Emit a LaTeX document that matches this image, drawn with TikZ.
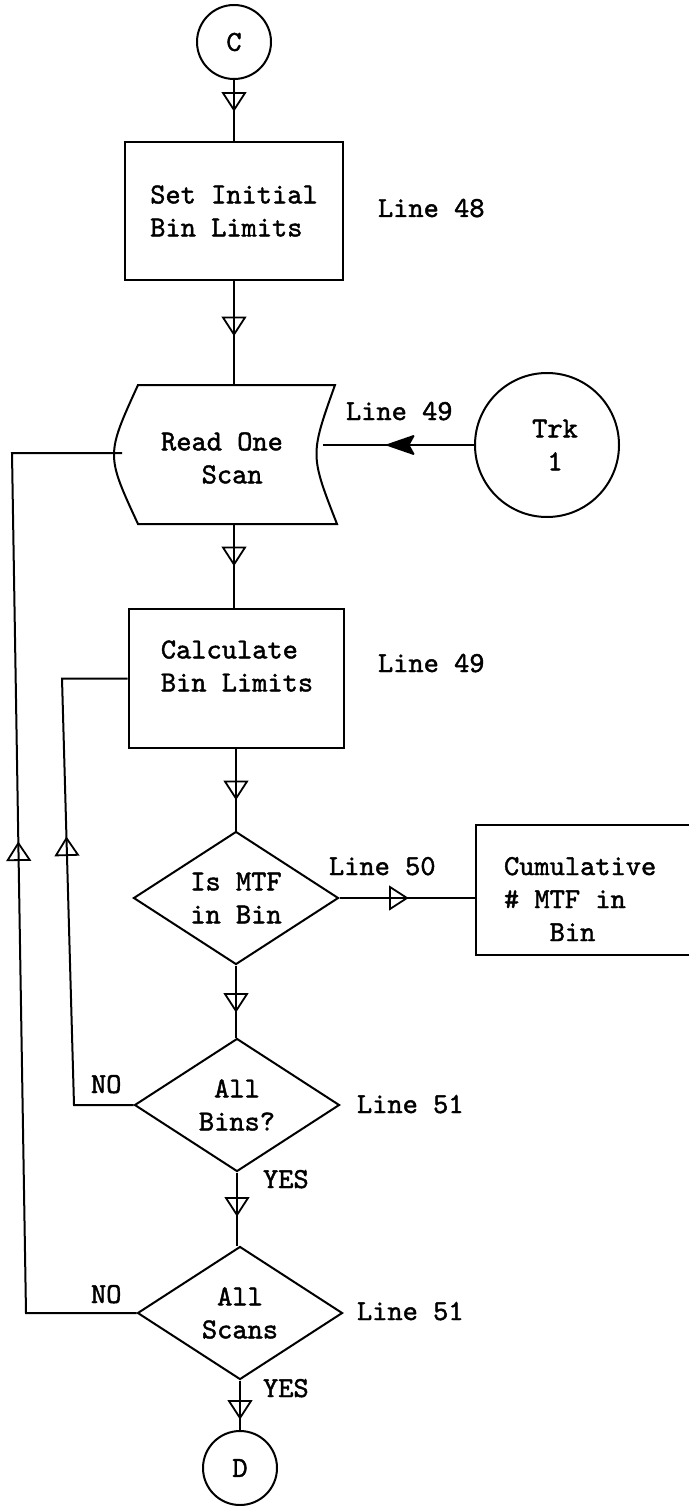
\documentclass[tikz,border=0pt]{standalone}
\usepackage{fontspec}
\setmonofont[FakeBold=1.5]{lmmono10-regular.otf}
\usetikzlibrary{shapes.geometric,decorations.markings,calc}
\newcommand\flowfont{\ttfamily\fontsize{29}{33}\selectfont}
\begin{document}
\begin{tikzpicture}[
  x=1pt, y=-1pt,
  line width=2pt,
  every node/.style={font=\flowfont},
  box/.style={draw, rectangle, inner sep=0pt},
  dec/.style={draw, diamond, inner sep=0pt, aspect=1.54, minimum width=205pt, minimum height=133pt, align=center},
  term/.style={draw, circle, inner sep=0pt, minimum size=74pt},
  txt/.style={inner sep=0pt, align=left},
  lbl/.style={inner sep=0pt, anchor=base west},
  flow/.style={postaction={decorate, decoration={markings,
      mark=at position #1 with {\draw[line width=1.8pt, line join=miter] (-8.5pt,-11pt) -- (8.5pt,0pt) -- (-8.5pt,11pt) -- cycle;}}}},
  flowfill/.style={postaction={decorate, decoration={markings,
      mark=at position #1 with {\draw[line width=1.8pt, fill=black, line join=round] (-13pt,-9pt) -- (13pt,0pt) -- (-13pt,9pt) -- (-8pt,0pt) -- cycle;}}}}
]
\fill[white] (0,0) rectangle (688,1506);
\useasboundingbox (0,0) rectangle (688,1506);

% nodes
\node[term] (C) at (234,42) {C};
\node[box, minimum width=218pt, minimum height=138pt, align=left] (init) at (234,211) {Set Initial\\Bin Limits};
\node[lbl] (l48) at (377,217) {Line 48};

% Read One Scan (tape-like symbol)
\coordinate (rdNW) at (138,385);
\coordinate (rdNE) at (335,385);
\coordinate (rdSE) at (337,524);
\coordinate (rdSW) at (138,524);
\coordinate (rdT) at (234,385);
\coordinate (rdB) at (234,524);
\coordinate (rdL) at (122,453);
\coordinate (rdR) at (323,445);
\draw (rdNW) -- (rdNE) .. controls (310,455) .. (rdSE) -- (rdSW) .. controls (106,455) .. (rdNW) -- cycle;
\node[txt] (rd) at (222,458) {Read One\\\hspace{1.4em}Scan};
\node[lbl] (l49a) at (345,420) {Line 49};
\node[draw, circle, inner sep=0pt, minimum size=144pt, align=center] (trk) at (547,445) {\hspace*{16pt}Trk\\\hspace*{16pt}1};

\node[box, minimum width=215pt, minimum height=139pt] (calc) at (236,678.5) {};
\node[txt] (calctxt) at (237,666) {Calculate\\Bin Limits};
\node[lbl] (l49b) at (377,672) {Line 49};

\node[dec] (d1) at (236,898) {Is MTF\\in Bin};
\node[lbl] (l50) at (328,875) {Line 50};
\node[box, minimum width=224pt, minimum height=130pt] (cum) at (588,890) {};
\node[txt, anchor=west] (cumtxt) at (503,899) {Cumulative\\\#\ MTF in\\\hspace{1.575em}Bin};

\node[dec] (d2) at (237,1105) {All\\Bins?};
\node[lbl] (l51a) at (356,1113) {Line 51};
\node[lbl] (no1) at (90,1093) {NO};
\node[lbl] (yes1) at (262,1188) {YES};

\node[dec] (d3) at (240,1313) {All\\Scans};
\node[lbl] (l51b) at (356,1320) {Line 51};
\node[lbl] (no2) at (90,1303) {NO};
\node[lbl] (yes2) at (262,1397) {YES};

\node[term] (D) at (240,1468) {D};

% feedback line corners (hand-drawn, slightly slanted verticals)
\coordinate (fbAbot) at (74,0);
\coordinate (fbAtop) at (62,0);
\coordinate (fbBbot) at (26,0);
\coordinate (fbBtop) at (12,0);

% connectors
\draw[flow=21.5pt] (C.south) -- (C.south |- init.north);
\draw[flow=45pt] (init.south) -- (rdT);
\draw[flow=32pt] (rdB) -- (rdB |- calc.north);
\draw[flow=41pt] (calc.south) -- (calc.south |- d1.north);
\draw[flow=59pt] (d1.east) -- (d1.east -| cum.west);
\draw[flow=37pt] (d1.south) -- (d1.south |- d2.north);
\draw[flow=34pt] (d2.south) -- (d2.south |- d3.north);
\draw[flow=29pt] (d3.south) -- (d3.south |- D.north);
\draw[flowfill=73.5pt] (trk.west) -- (rdR);
\draw[flow=318pt] (d2.west) -- (fbAbot |- d2.west) -- (fbAtop |- calc.west) -- (calc.west);
\draw[flow=572pt] (d3.west) -- (fbBbot |- d3.west) -- (fbBtop |- rdL) -- (rdL);
\end{tikzpicture}
\end{document}
